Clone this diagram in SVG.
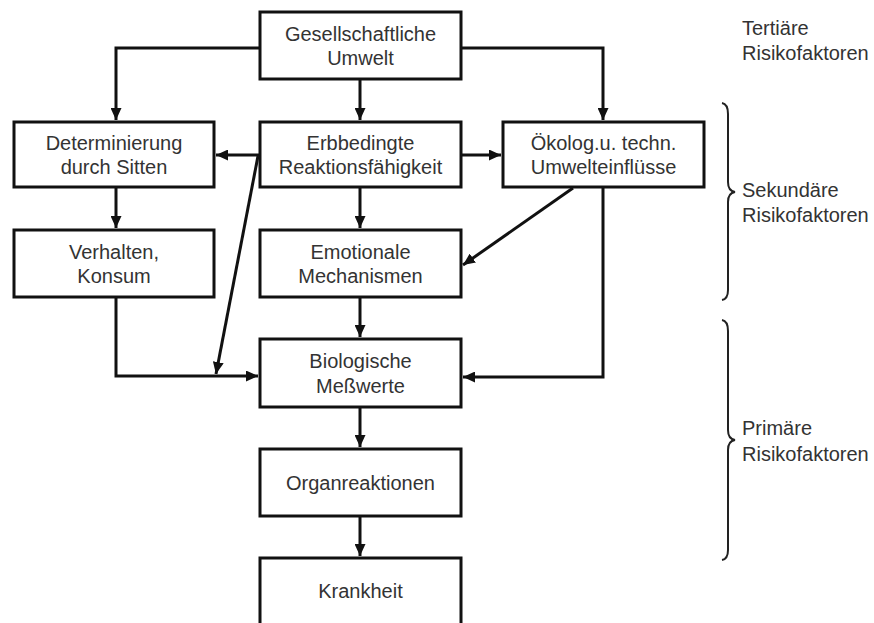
<svg xmlns="http://www.w3.org/2000/svg" width="874" height="623" viewBox="0 0 874 623">
<style>
.box{fill:#fff;stroke:#111;stroke-width:3}
.t{font-family:"Liberation Sans",Arial,sans-serif;font-size:20px;fill:#333;text-anchor:middle}
.lab{font-family:"Liberation Sans",Arial,sans-serif;font-size:20px;fill:#333}
.c{fill:none;stroke:#111;stroke-width:3}
.br{fill:none;stroke:#222;stroke-width:2}
</style>
<defs>
<marker id="ah" markerUnits="userSpaceOnUse" markerWidth="13" markerHeight="11" refX="12" refY="5.5" orient="auto">
<path d="M0,0 L12,5.5 L0,11 z" fill="#111"/>
</marker>
</defs>
<rect width="874" height="623" fill="#fff"/>
<g id="connectors">
<path class="c" d="M260,48 H116 V120" marker-end="url(#ah)"/>
<path class="c" d="M461,48 H603 V120" marker-end="url(#ah)"/>
<path class="c" d="M360,79 V120" marker-end="url(#ah)"/>
<path class="c" d="M260,155 H216" marker-end="url(#ah)"/>
<path class="c" d="M461,155 H501" marker-end="url(#ah)"/>
<path class="c" d="M360,187 V228" marker-end="url(#ah)"/>
<path class="c" d="M116,187 V228" marker-end="url(#ah)"/>
<path class="c" d="M258,156 L216,374" marker-end="url(#ah)"/>
<path class="c" d="M116,297 V376 H258" marker-end="url(#ah)"/>
<path class="c" d="M360,297 V337" marker-end="url(#ah)"/>
<path class="c" d="M603,187 V377 H463" marker-end="url(#ah)"/>
<path class="c" d="M573,188 L463,265" marker-end="url(#ah)"/>
<path class="c" d="M360,407 V447" marker-end="url(#ah)"/>
<path class="c" d="M360,516 V556" marker-end="url(#ah)"/>
</g>
<g id="gesellschaftliche">
<rect class="box" x="260" y="12" width="201" height="67"/>
<text class="t" x="360.5" y="41">Gesellschaftliche</text>
<text class="t" x="360.5" y="65">Umwelt</text>
</g>
<g id="determinierung">
<rect class="box" x="14" y="122" width="200" height="65"/>
<text class="t" x="114" y="150">Determinierung</text>
<text class="t" x="114" y="174">durch Sitten</text>
</g>
<g id="erbbedingte">
<rect class="box" x="260" y="122" width="201" height="65"/>
<text class="t" x="360.5" y="150">Erbbedingte</text>
<text class="t" x="360.5" y="174">Reaktionsfähigkeit</text>
</g>
<g id="oekolog">
<rect class="box" x="503" y="122" width="201" height="65"/>
<text class="t" x="603.5" y="150">Ökolog.u. techn.</text>
<text class="t" x="603.5" y="174">Umwelteinflüsse</text>
</g>
<g id="verhalten">
<rect class="box" x="14" y="230" width="200" height="67"/>
<text class="t" x="114" y="259">Verhalten,</text>
<text class="t" x="114" y="283">Konsum</text>
</g>
<g id="emotionale">
<rect class="box" x="260" y="230" width="201" height="67"/>
<text class="t" x="360.5" y="259">Emotionale</text>
<text class="t" x="360.5" y="283">Mechanismen</text>
</g>
<g id="biologische">
<rect class="box" x="260" y="339" width="201" height="68"/>
<text class="t" x="360.5" y="368">Biologische</text>
<text class="t" x="360.5" y="393">Meßwerte</text>
</g>
<g id="organreaktionen">
<rect class="box" x="260" y="449" width="201" height="67"/>
<text class="t" x="360.5" y="490">Organreaktionen</text>
</g>
<g id="krankheit">
<rect class="box" x="260" y="558" width="201" height="70"/>
<text class="t" x="360.5" y="598">Krankheit</text>
</g>
<g id="labels">
<text class="lab" x="742" y="35">Tertiäre</text>
<text class="lab" x="742" y="60">Risikofaktoren</text>
<path class="br" d="M722,103 Q728,104 728,114 V182 Q728,191 735,192 Q728,193 728,202 V290 Q728,299 722,300"/>
<text class="lab" x="742" y="197">Sekundäre</text>
<text class="lab" x="742" y="222">Risikofaktoren</text>
<path class="br" d="M722,320 Q728,321 728,331 V430 Q728,439 735,440 Q728,441 728,450 V550 Q728,559 722,560"/>
<text class="lab" x="742" y="435">Primäre</text>
<text class="lab" x="742" y="461">Risikofaktoren</text>
</g>
</svg>
